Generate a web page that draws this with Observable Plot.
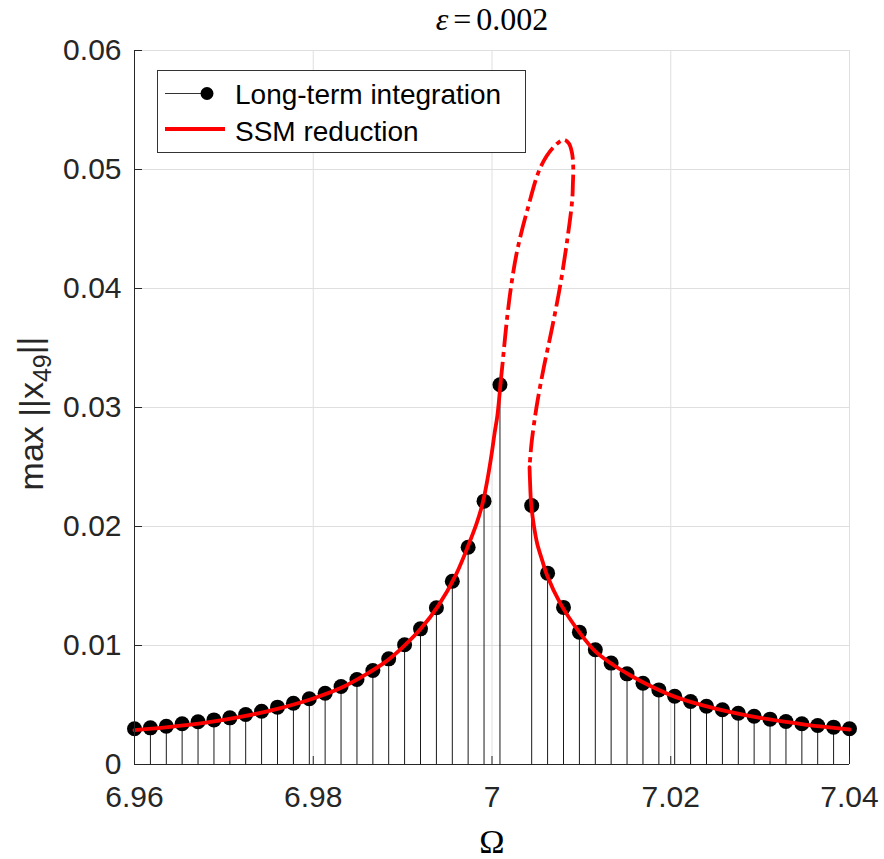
<!DOCTYPE html>
<html>
<head>
<meta charset="utf-8">
<script src="https://cdn.jsdelivr.net/npm/d3@7"></script>
<script src="https://cdn.jsdelivr.net/npm/@observablehq/plot@0.6"></script>
<style>
  html, body { margin: 0; padding: 0; background: #fff; }
</style>
</head>
<body>
<div id="chart"></div>
<script>
// ---- Text ----
const titleText = "ε=0.002";
const xLabelText = "Ω";
const yLabelText = "max ||x49||";
const legendLabels = ["Long-term integration", "SSM reduction"];

// ---- Ticks ----
const xTicks = [6.96, 6.98, 7, 7.02, 7.04];
const xTickLabels = ["6.96", "6.98", "7", "7.02", "7.04"];
const yTicks = [0, 0.01, 0.02, 0.03, 0.04, 0.05, 0.06];
const yTickLabels = ["0", "0.01", "0.02", "0.03", "0.04", "0.05", "0.06"];

// ---- Long-term integration (stems + dots) ----
const omega = [
  6.96000, 6.96178, 6.96356, 6.96533, 6.96711, 6.96889, 6.97067, 6.97244,
  6.97422, 6.97600, 6.97778, 6.97956, 6.98133, 6.98311, 6.98489, 6.98667,
  6.98844, 6.99022, 6.99200, 6.99378, 6.99556, 6.99733, 6.99911, 7.00089,
  7.00444, 7.00622, 7.00800, 7.00978, 7.01156, 7.01333, 7.01511, 7.01689,
  7.01867, 7.02044, 7.02222, 7.02400, 7.02578, 7.02756, 7.02933, 7.03111,
  7.03289, 7.03467, 7.03644, 7.03822, 7.04000
];
const amp = [
  0.00300, 0.00308, 0.00322, 0.00342, 0.00359, 0.00375, 0.00392, 0.00420,
  0.00448, 0.00482, 0.00515, 0.00552, 0.00599, 0.00655, 0.00714, 0.00790,
  0.00888, 0.01006, 0.01140, 0.01317, 0.01540, 0.01826, 0.02213, 0.03191,
  0.02176, 0.01608, 0.01320, 0.01112, 0.00964, 0.00852, 0.00762, 0.00683,
  0.00627, 0.00574, 0.00529, 0.00490, 0.00460, 0.00431, 0.00406, 0.00381,
  0.00361, 0.00342, 0.00328, 0.00314, 0.00300
];

// ---- SSM reduction: stable left branch ----
const ssmLeftOmega = [
  6.9600, 6.9640, 6.9680, 6.9720, 6.9760, 6.9800, 6.9830, 6.9860, 6.9880,
  6.9900, 6.9920, 6.9940, 6.9960, 6.9975, 6.9983, 6.9990, 6.99955, 7.0000,
  7.0003, 7.0006, 7.00095
];
const ssmLeftAmp = [
  0.00288, 0.00316, 0.00352, 0.00402, 0.00468, 0.00555, 0.00640, 0.00762, 0.00858,
  0.00985, 0.01138, 0.01335, 0.01600, 0.01870, 0.02030, 0.02210, 0.02420, 0.02630,
  0.02790, 0.02930, 0.03200
];
// ---- SSM reduction: unstable branch (dash-dot) ----
const ssmUnstableOmega = [
  7.00095, 7.00114, 7.00170, 7.00220, 7.00282, 7.00394, 7.00543, 7.00688,
  7.00803, 7.00860, 7.00895, 7.00909, 7.00905, 7.00897, 7.00841, 7.00767,
  7.00674, 7.00580, 7.00498, 7.00442, 7.00420
];
const ssmUnstableAmp = [
  0.03200, 0.03339, 0.03759, 0.04050, 0.04319, 0.04655, 0.05019, 0.05187,
  0.05250, 0.05220, 0.05140, 0.05019, 0.04880, 0.04740, 0.04403, 0.04042,
  0.03675, 0.03339, 0.03003, 0.02697, 0.02498
];
// ---- SSM reduction: stable right branch ----
const ssmRightOmega = [
  7.00420, 7.00425, 7.00438, 7.00470, 7.00506, 7.00560, 7.00617, 7.00767,
  7.00991, 7.0115, 7.0135, 7.0155, 7.0175, 7.0200, 7.0225, 7.0250, 7.0275,
  7.0300, 7.0325, 7.0350, 7.0375, 7.0400
];
const ssmRightAmp = [
  0.02498, 0.02390, 0.02191, 0.02000, 0.01855, 0.01720, 0.01588, 0.01350,
  0.01098, 0.00955, 0.00840, 0.00748, 0.00668, 0.00583, 0.00520, 0.00470, 0.00428,
  0.00392, 0.00362, 0.00336, 0.00314, 0.00294
];

// ---- Build tables ----
const rows = (xs, ys) => xs.map((x, i) => ({x, y: ys[i]}));
const points = rows(omega, amp);
const ssmLeft = rows(ssmLeftOmega, ssmLeftAmp);
const ssmUnstable = rows(ssmUnstableOmega, ssmUnstableAmp);
const ssmRight = rows(ssmRightOmega, ssmRightAmp);

const axisColor = "#262626";
const gridColor = "#dfdfdf";
const red = "#ff0000";
const lw = 3.8;

const chart = Plot.plot({
  width: 884,
  height: 859,
  marginLeft: 134,
  marginRight: 35,
  marginTop: 50,
  marginBottom: 95,
  style: {
    fontFamily: "'Liberation Sans', Arial, Helvetica, sans-serif",
    fontSize: "30px",
    color: axisColor,
    background: "white",
    overflow: "visible"
  },
  x: {domain: [6.96, 7.04], label: null},
  y: {domain: [0, 0.06], label: null},
  marks: [
    // grid
    Plot.ruleX(xTicks, {x: d => d, stroke: gridColor, strokeWidth: 1}),
    Plot.ruleY(yTicks, {y: d => d, stroke: gridColor, strokeWidth: 1}),
    // stems
    Plot.ruleX(points, {x: "x", y1: 0, y2: "y", stroke: "#1a1a1a", strokeWidth: 1}),
    // dots
    Plot.dot(points, {x: "x", y: "y", r: 7.5, fill: "black", stroke: "none"}),
    // SSM curves
    Plot.line(ssmLeft, {x: "x", y: "y", stroke: red, strokeWidth: lw, curve: "catmull-rom"}),
    Plot.line(ssmUnstable, {x: "x", y: "y", stroke: red, strokeWidth: lw, curve: "catmull-rom",
      strokeDasharray: "22,5,5,5", strokeLinecap: "butt"}),
    Plot.line(ssmRight, {x: "x", y: "y", stroke: red, strokeWidth: lw, curve: "catmull-rom"}),
    // axis lines (left & bottom)
    Plot.ruleX([xTicks[0]], {x: d => d, stroke: axisColor, strokeWidth: 1}),
    Plot.ruleY([yTicks[0]], {y: d => d, stroke: axisColor, strokeWidth: 1}),
    // inward ticks
    Plot.ruleX(xTicks, {x: d => d, y1: 0, y2: 0, insetTop: -8, stroke: axisColor, strokeWidth: 1}),
    Plot.ruleY(yTicks, {y: d => d, x1: 6.96, x2: 6.96, insetRight: -8, stroke: axisColor, strokeWidth: 1}),
    // tick labels
    Plot.axisX(xTicks, {tickSize: 0, tickPadding: 21, label: null,
      tickFormat: d => xTickLabels[xTicks.indexOf(d)], fill: axisColor}),
    Plot.axisY(yTicks, {tickSize: 0, tickPadding: 13, label: null,
      tickFormat: d => yTickLabels[yTicks.indexOf(d)], fill: axisColor}),
    // axis titles and plot title
    Plot.text([xLabelText], {frameAnchor: "bottom", dy: 78, lineAnchor: "middle", textAnchor: "middle",
      fontFamily: "'Liberation Serif', 'Times New Roman', serif", fontSize: 34, fill: "#000"}),
    Plot.text([yLabelText], {frameAnchor: "left", dx: -102, dy: 6, rotate: -90,
      lineAnchor: "middle", textAnchor: "middle", fontSize: 34, fill: axisColor}),
    Plot.text([titleText], {frameAnchor: "top", dy: -31, lineAnchor: "middle", textAnchor: "middle",
      fontFamily: "'Liberation Serif', 'Times New Roman', serif", fontSize: 32, fill: "#000"})
  ]
});

document.getElementById("chart").appendChild(chart);

// ---- Rich text: subscript in y label, italic epsilon in title ----
const svg = d3.select(chart);
svg.selectAll("text").each(function () {
  const t = d3.select(this);
  const s = this.textContent;
  if (s === yLabelText) {
    this.textContent = "";
    t.append("tspan").text("max ||x");
    t.append("tspan").attr("dy", "0.3em").attr("font-size", 25).text("49");
    t.append("tspan").attr("dy", "-0.3em").text("||");
  } else if (s === titleText) {
    this.textContent = "";
    t.append("tspan").attr("font-style", "italic").text("ε");
    t.append("tspan").attr("dx", 5).text("=");
    t.append("tspan").attr("dx", 5).text("0.002");
  }
});

// ---- Legend ----
const fx = 134, fy = 50; // frame origin (marginLeft, marginTop)
const lg = svg.append("g").attr("class", "legend").attr("text-anchor", "start");
lg.append("rect")
  .attr("x", fx + 23.5).attr("y", fy + 20.5)
  .attr("width", 368).attr("height", 82)
  .attr("fill", "white").attr("stroke", "#333").attr("stroke-width", 1);
// row 1
lg.append("line").attr("x1", fx + 31).attr("x2", fx + 73).attr("y1", fy + 43.5).attr("y2", fy + 43.5)
  .attr("stroke", "#333").attr("stroke-width", 1);
lg.append("circle").attr("cx", fx + 73).attr("cy", fy + 43.5).attr("r", 6.5).attr("fill", "black");
lg.append("text").attr("x", fx + 101).attr("y", fy + 44).attr("dy", "0.35em")
  .attr("text-anchor", "start").attr("font-size", 28).attr("fill", "#000").text(legendLabels[0]);
// row 2
lg.append("line").attr("x1", fx + 31).attr("x2", fx + 91).attr("y1", fy + 79).attr("y2", fy + 79)
  .attr("stroke", red).attr("stroke-width", lw);
lg.append("text").attr("x", fx + 101).attr("y", fy + 81).attr("dy", "0.35em")
  .attr("text-anchor", "start").attr("font-size", 28).attr("fill", "#000").text(legendLabels[1]);
</script>
</body>
</html>
